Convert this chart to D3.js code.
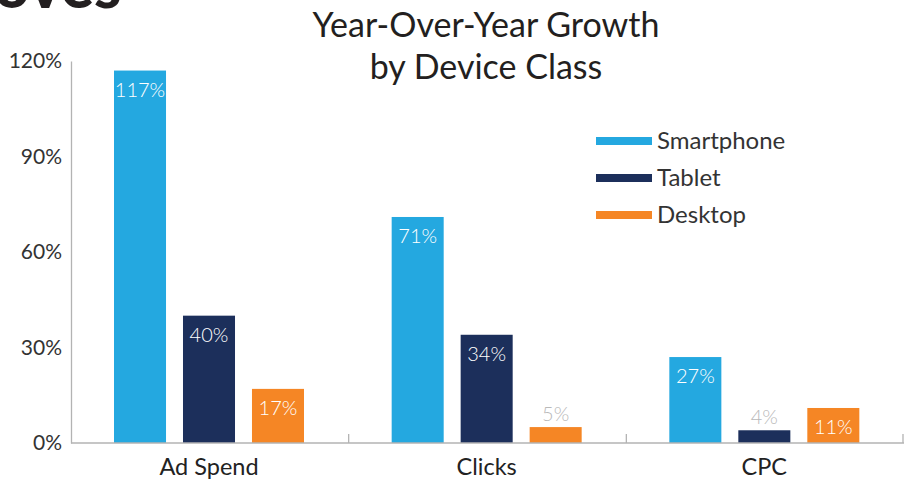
<!DOCTYPE html>
<html>
<head>
<meta charset="utf-8">
<script src="https://cdn.jsdelivr.net/npm/d3@7"></script>
<style>
  body { margin: 0; background: #fff; }
  text { font-family: Lato, "Open Sans", sans-serif; }
</style>
</head>
<body>
<div id="chart"></div>
<script>
// data
const categories = ["Ad Spend", "Clicks", "CPC"];
const series = ["Smartphone", "Tablet", "Desktop"];
const smartphone = [117, 71, 27];
const tablet = [40, 34, 4];
const desktop = [17, 5, 11];
const yTicks = [0, 30, 60, 90, 120];
const colors = ["#24a8e0", "#1c2f5b", "#f58625"];

const values = [smartphone, tablet, desktop];
const data = categories.map((c, i) => {
  const row = { category: c };
  series.forEach((s, j) => (row[s] = values[j][i]));
  return row;
});

const W = 907, H = 479;
const margin = { top: 61, right: 3, bottom: 36, left: 71 },
  width = W - margin.left - margin.right,
  height = H - margin.top - margin.bottom;

const svg = d3
  .select("#chart")
  .append("svg")
  .attr("width", W)
  .attr("height", H);

// clipped heading from the page above the chart
svg
  .append("text")
  .attr("x", -6)
  .attr("y", 8)
  .style("font-size", "62px")
  .style("font-weight", "900")
  .attr("fill", "#231f20")
  .text("oves");

// title
const title = svg
  .append("text")
  .attr("text-anchor", "middle")
  .attr("fill", "#231f20")
  .style("font-size", "34px");
title.append("tspan").attr("x", 486).attr("y", 37).text("Year-Over-Year Growth");
title.append("tspan").attr("x", 486).attr("y", 79).text("by Device Class");

const g = svg
  .append("g")
  .attr("transform", `translate(${margin.left},${margin.top})`);

const x0 = d3.scaleBand().domain(categories).range([0, width]).padding(0);
const x1 = d3
  .scaleBand()
  .domain(series)
  .range([43, 233])
  .paddingInner(0.246);
const y = d3.scaleLinear().domain([0, 120]).range([height, 0]);
const color = d3.scaleOrdinal().domain(series).range(colors);

// y axis: line + labels, no ticks
const yAxis = g
  .append("g")
  .call(
    d3
      .axisLeft(y)
      .tickValues(yTicks)
      .tickSize(0)
      .tickPadding(9)
      .tickFormat((d) => d + "%")
  );
yAxis.select(".domain").attr("stroke", "#b3b3b3").attr("stroke-width", 1.3);
yAxis
  .selectAll("text")
  .attr("fill", "#333")
  .style("font-size", "21px")
  .style("font-family", "Lato, sans-serif");

// bars
const groups = g
  .append("g")
  .selectAll("g")
  .data(data)
  .join("g")
  .attr("transform", (d) => `translate(${x0(d.category)},0)`);

const cells = groups
  .selectAll("g")
  .data((d) => series.map((s) => ({ key: s, value: d[s] })))
  .join("g");

cells
  .append("rect")
  .attr("x", (d) => x1(d.key))
  .attr("y", (d) => y(d.value))
  .attr("width", x1.bandwidth())
  .attr("height", (d) => height - y(d.value))
  .attr("fill", (d) => color(d.key));

cells
  .append("text")
  .attr("x", (d) => x1(d.key) + x1.bandwidth() / 2)
  .attr("y", (d) => (d.value < 8 ? y(d.value) - 6 : y(d.value) + 26))
  .attr("text-anchor", "middle")
  .attr("fill", (d) => (d.value < 8 ? "#b9b9b9" : "#fff"))
  .style("font-size", "20px")
  .style("font-weight", "300")
  .text((d) => d.value + "%");

// x axis with inside ticks at category boundaries
const xAxis = g.append("g").attr("transform", `translate(0,${height})`);
xAxis
  .append("line")
  .attr("x1", 0)
  .attr("x2", width)
  .attr("stroke", "#b3b3b3")
  .attr("stroke-width", 1.3);
xAxis
  .selectAll(".tick")
  .data(categories.slice(1).concat(["end"]))
  .join("line")
  .attr("class", "tick")
  .attr("x1", (d) => (d === "end" ? width - 1 : x0(d)))
  .attr("x2", (d) => (d === "end" ? width - 1 : x0(d)))
  .attr("y1", 0)
  .attr("y2", -9)
  .attr("stroke", "#b3b3b3")
  .attr("stroke-width", 1.3);
xAxis
  .selectAll(".label")
  .data(categories)
  .join("text")
  .attr("class", "label")
  .attr("x", (d) => x0(d) + 43 + 95)
  .attr("y", 32)
  .attr("text-anchor", "middle")
  .attr("fill", "#222")
  .style("font-size", "23.5px")
  .text((d) => d);

// legend
const legend = svg
  .append("g")
  .selectAll("g")
  .data(series)
  .join("g")
  .attr("transform", (d, i) => `translate(596,${141 + i * 37})`);
legend
  .append("rect")
  .attr("y", -4)
  .attr("width", 56)
  .attr("height", 8)
  .attr("fill", (d) => color(d));
legend
  .append("text")
  .attr("x", 61)
  .attr("y", 8)
  .attr("fill", "#333")
  .style("font-size", "24px")
  .text((d) => d);
</script>
</body>
</html>
